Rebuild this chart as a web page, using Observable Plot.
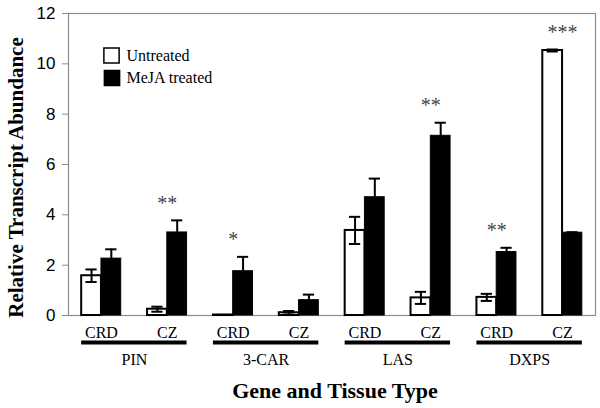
<!DOCTYPE html>
<html><head><meta charset="utf-8">
<script src="https://cdn.jsdelivr.net/npm/d3@7"></script>
<script src="https://cdn.jsdelivr.net/npm/@observablehq/plot@0.6"></script>
<style>html,body{margin:0;padding:0;background:#fff}</style>
</head><body><div id="chart"></div>
<script>
const genes = ["PIN", "3-CAR", "LAS", "DXPS"];
const tissues = ["CRD", "CZ"];
const untreated    = [1.58, 0.25, 0.02, 0.11, 3.38, 0.70, 0.72, 10.53];
const untreatedErr = [0.25, 0.10, 0.00, 0.07, 0.54, 0.24, 0.14, 0.04];
const treated      = [2.26, 3.30, 1.76, 0.61, 4.70, 7.14, 2.52, 3.29];
const treatedErr   = [0.37, 0.48, 0.57, 0.22, 0.74, 0.52, 0.17, 0.02];
const significance = ["", "**", "*", "", "", "**", "**", "***"];
const seriesNames = ["Untreated", "MeJA treated"];

const groups = untreated.map((u, i) => ({
  i,
  gene: genes[Math.floor(i / 2)],
  tissue: tissues[i % 2],
  u, ue: untreatedErr[i],
  t: treated[i], te: treatedErr[i],
  sig: significance[i]
}));
const half = 0.3;
const cap = 0.085;
const serif = "Liberation Serif, Times New Roman, serif";
const sans = "Liberation Sans, Arial, sans-serif";
const errU = groups.filter(d => d.ue > 0);
const errT = groups.filter(d => d.te > 0);

const chart = Plot.plot({
  width: 600, height: 408,
  marginLeft: 68, marginRight: 5, marginTop: 13, marginBottom: 93,
  style: {fontFamily: serif, fontSize: "16px", background: "white", overflow: "visible"},
  x: {domain: [-0.5, 7.5], axis: null},
  y: {domain: [0, 12], axis: null},
  marks: [
    Plot.frame({stroke: "#8c8c8c", strokeWidth: 1.2}),
    Plot.axisY({ticks: d3.range(0, 13, 2), tickSize: 6, tickPadding: 7, fontSize: 17, fontFamily: sans, stroke: "#8c8c8c", fill: "black", label: null}),
    // bars
    Plot.rectY(groups, {x1: d => d.i - half, x2: d => d.i, y1: 0, y2: "u", fill: "white", stroke: "black", strokeWidth: 2}),
    Plot.rectY(groups, {x1: d => d.i, x2: d => d.i + half, y1: 0, y2: "t", fill: "black", stroke: "black", strokeWidth: 1}),
    // error bars untreated
    Plot.ruleX(errU, {x: d => d.i - half / 2, y1: d => d.u - d.ue, y2: d => d.u + d.ue, stroke: "black", strokeWidth: 2}),
    Plot.ruleY(errU, {x1: d => d.i - half / 2 - cap, x2: d => d.i - half / 2 + cap, y: d => d.u + d.ue, stroke: "black", strokeWidth: 2}),
    Plot.ruleY(errU, {x1: d => d.i - half / 2 - cap, x2: d => d.i - half / 2 + cap, y: d => d.u - d.ue, stroke: "black", strokeWidth: 2}),
    // error bars treated
    Plot.ruleX(errT, {x: d => d.i + half / 2, y1: d => d.t - d.te, y2: d => d.t + d.te, stroke: "black", strokeWidth: 2}),
    Plot.ruleY(errT, {x1: d => d.i + half / 2 - cap, x2: d => d.i + half / 2 + cap, y: d => d.t + d.te, stroke: "black", strokeWidth: 2}),
    // significance
    Plot.text(groups.filter(d => d.sig), {x: "i", y: d => Math.max(d.u + d.ue, d.t + d.te), text: "sig", dy: -17, fontSize: 20, fontFamily: serif, fill: "#444", lineAnchor: "middle"}),
    // tissue labels
    Plot.text(groups, {x: "i", text: "tissue", frameAnchor: "bottom", dy: 17, fontSize: 16, fontFamily: serif, textAnchor: "middle", lineAnchor: "middle", fill: "black"}),
    // gene lines and labels
    Plot.ruleY(genes, {x1: (d, k) => 2 * k - half, x2: (d, k) => 2 * k + 1 + half, y: 0, dy: 27, stroke: "black", strokeWidth: 4}),
    Plot.text(genes, {x: (d, k) => 2 * k + 0.5, text: d => d, frameAnchor: "bottom", dy: 44, fontSize: 16, fontFamily: serif, textAnchor: "middle", lineAnchor: "middle", fill: "black"}),
    // axis titles
    Plot.text(["Gene and Tissue Type"], {frameAnchor: "bottom", dx: 3, dy: 75, fontSize: 22, fontFamily: serif, fontWeight: "bold", textAnchor: "middle", lineAnchor: "middle", fill: "black"}),
    Plot.text(["Relative Transcript Abundance"], {frameAnchor: "left", dx: -52, dy: 13, rotate: -90, fontSize: 21, fontFamily: serif, fontWeight: "bold", textAnchor: "middle", lineAnchor: "middle", fill: "black"}),
    // legend
    Plot.dot([seriesNames[0]], {frameAnchor: "top-left", dx: 43, dy: 42, symbol: "square", r: 8.6, fill: "white", stroke: "black", strokeWidth: 1.5}),
    Plot.dot([seriesNames[1]], {frameAnchor: "top-left", dx: 43.5, dy: 64.5, symbol: "square", r: 8.6, fill: "black", stroke: "black", strokeWidth: 1.5}),
    Plot.text([seriesNames[0]], {frameAnchor: "top-left", dx: 58, dy: 42, text: d => d, textAnchor: "start", fontSize: 16, fontFamily: serif, lineAnchor: "middle", fill: "black"}),
    Plot.text([seriesNames[1]], {frameAnchor: "top-left", dx: 58, dy: 64.5, text: d => d, textAnchor: "start", fontSize: 16, fontFamily: serif, lineAnchor: "middle", fill: "black"})
  ]
});
document.getElementById("chart").appendChild(chart);
</script>
</body></html>
